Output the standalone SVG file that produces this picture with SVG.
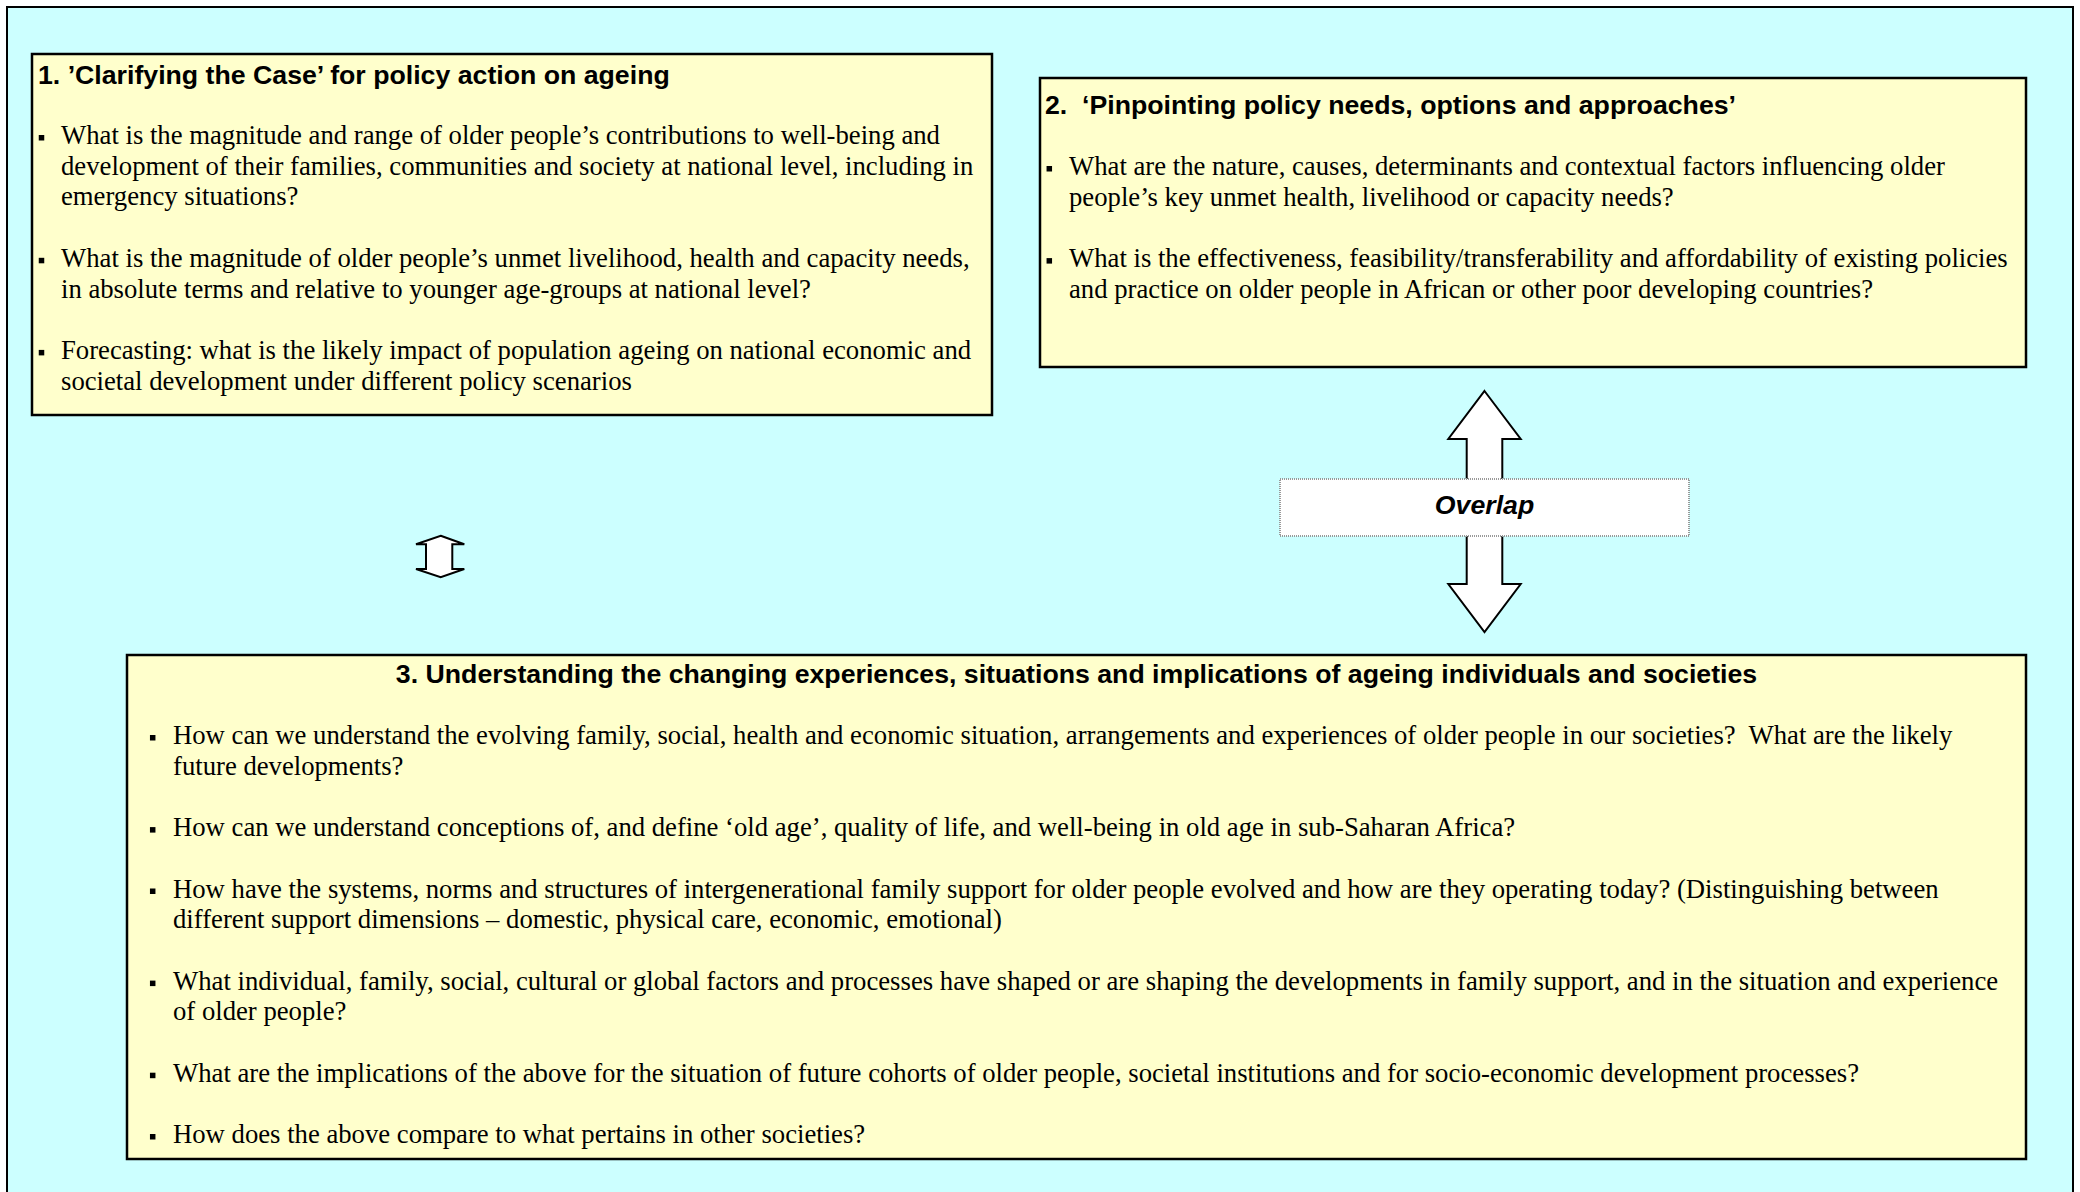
<svg xmlns="http://www.w3.org/2000/svg" width="2080" height="1192" viewBox="0 0 2080 1192">
<style>
.box{fill:#FFFFCC;stroke:#000;stroke-width:2.5}
.ttl{font-family:"Liberation Sans",Arial,sans-serif;font-weight:bold;font-size:26.7px;fill:#000}
.bd{font-family:"Liberation Serif","Times New Roman",serif;font-size:26.7px;fill:#000}
.arr{fill:#fff;stroke:#000;stroke-width:2;stroke-linejoin:miter}
.ov{fill:#fff;stroke:#999;stroke-width:2;stroke-dasharray:1 1}
.ovt{font-family:"Liberation Sans",Arial,sans-serif;font-weight:bold;font-style:italic;font-size:26.7px;fill:#000}
</style>
<defs>
<rect id="b" x="-2.75" y="-9" width="5.5" height="5.5" fill="#000"/>
</defs>
<rect x="0" y="0" width="2080" height="1192" fill="#fff"/>
<rect x="7" y="7" width="2066" height="1200" fill="#CCFFFF" stroke="#000" stroke-width="2"/>

<g id="connectors">
<polygon class="arr" points="440.7,535.7 464.3,544.3 452.3,544.3 452.3,569 464.3,569 440.7,577.3 416,569 426,569 426,544.3 416,544.3"/>
<polygon class="arr" points="1484.5,391 1520.7,439 1502.3,439 1502.3,584 1520.7,584 1484.5,632 1448.3,584 1466.7,584 1466.7,439 1448.3,439"/>
</g>

<g id="overlap">
<rect class="ov" x="1280" y="479" width="409" height="57"/>
<text class="ovt" x="1484.5" y="514" text-anchor="middle">Overlap</text>
</g>

<g id="box1">
<rect class="box" x="32" y="54" width="960" height="361"/>
<text class="ttl" x="38" y="84">1. ’Clarifying the Case’ for policy action on ageing</text>
<use href="#b" x="41.5" y="144"/>
<use href="#b" x="41.5" y="266.8"/>
<use href="#b" x="41.5" y="358.9"/>
<text class="bd" x="61" y="144">What is the magnitude and range of older people’s contributions to well-being and</text>
<text class="bd" x="61" y="174.7">development of their families, communities and society at national level, including in</text>
<text class="bd" x="61" y="205.4">emergency situations?</text>
<text class="bd" x="61" y="266.8">What is the magnitude of older people’s unmet livelihood, health and capacity needs,</text>
<text class="bd" x="61" y="297.5">in absolute terms and relative to younger age-groups at national level?</text>
<text class="bd" x="61" y="358.9">Forecasting: what is the likely impact of population ageing on national economic and</text>
<text class="bd" x="61" y="389.6">societal development under different policy scenarios</text>
</g>

<g id="box2">
<rect class="box" x="1040" y="78" width="986" height="289"/>
<text class="ttl" x="1045" y="114" xml:space="preserve">2.  ‘Pinpointing policy needs, options and approaches’</text>
<use href="#b" x="1049.3" y="175"/>
<use href="#b" x="1049.3" y="267.1"/>
<text class="bd" x="1069" y="175">What are the nature, causes, determinants and contextual factors influencing older</text>
<text class="bd" x="1069" y="205.7">people’s key unmet health, livelihood or capacity needs?</text>
<text class="bd" x="1069" y="267.1">What is the effectiveness, feasibility/transferability and affordability of existing policies</text>
<text class="bd" x="1069" y="297.8">and practice on older people in African or other poor developing countries?</text>
</g>

<g id="box3">
<rect class="box" x="127" y="655" width="1899" height="504"/>
<text class="ttl" x="1076.5" y="683" text-anchor="middle">3. Understanding the changing experiences, situations and implications of ageing individuals and societies</text>
<use href="#b" x="152.7" y="744"/>
<use href="#b" x="152.7" y="836.1"/>
<use href="#b" x="152.7" y="897.5"/>
<use href="#b" x="152.7" y="989.6"/>
<use href="#b" x="152.7" y="1081.7"/>
<use href="#b" x="152.7" y="1143"/>
<text class="bd" x="173" y="744" xml:space="preserve">How can we understand the evolving family, social, health and economic situation, arrangements and experiences of older people in our societies?  What are the likely</text>
<text class="bd" x="173" y="774.7">future developments?</text>
<text class="bd" x="173" y="836.1">How can we understand conceptions of, and define ‘old age’, quality of life, and well-being in old age in sub-Saharan Africa?</text>
<text class="bd" x="173" y="897.5">How have the systems, norms and structures of intergenerational family support for older people evolved and how are they operating today? (Distinguishing between</text>
<text class="bd" x="173" y="928.2">different support dimensions – domestic, physical care, economic, emotional)</text>
<text class="bd" x="173" y="989.6">What individual, family, social, cultural or global factors and processes have shaped or are shaping the developments in family support, and in the situation and experience</text>
<text class="bd" x="173" y="1020.3">of older people?</text>
<text class="bd" x="173" y="1081.7">What are the implications of the above for the situation of future cohorts of older people, societal institutions and for socio-economic development processes?</text>
<text class="bd" x="173" y="1143">How does the above compare to what pertains in other societies?</text>
</g>
</svg>
